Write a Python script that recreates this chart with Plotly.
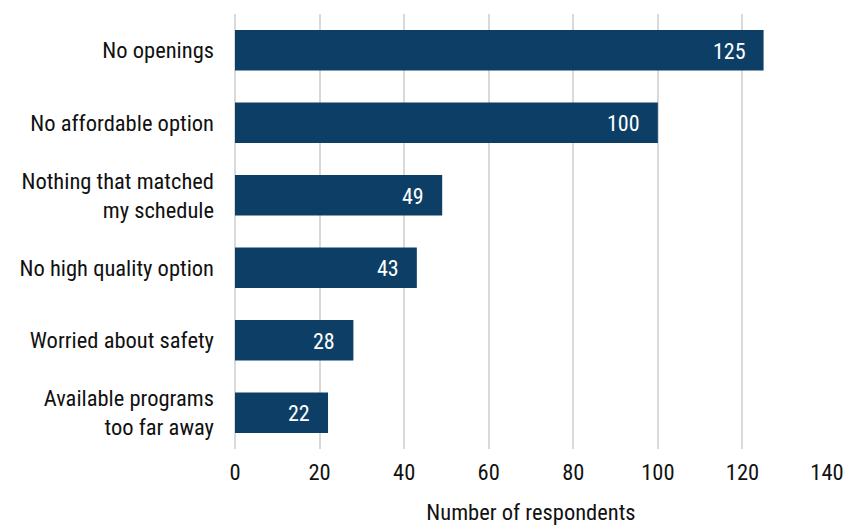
import plotly.graph_objects as go

categories = ["No openings", "No affordable option", "Nothing that matched<br>my schedule",
              "No high quality option", "Worried about safety", "Available programs<br>too far away"]
counts = [125, 100, 49, 43, 28, 22]

FONT = "Roboto Condensed, Liberation Sans Narrow, Arial Narrow, sans-serif"

fig = go.Figure(go.Bar(
    x=counts, y=categories, orientation="h",
    marker=dict(color="#0d3f66", line=dict(width=0)),
    width=0.56, hoverinfo="skip",
))

# value labels inside the bar ends
for cat, v in zip(categories, counts):
    fig.add_annotation(x=v, y=cat, text=str(v), showarrow=False, xanchor="right",
                       xshift=-16, yshift=-1,
                       font=dict(color="white", size=22, family=FONT))

# page body has an 8px margin, so the figure is a bit smaller than the window
fig.update_layout(
    width=838, height=517,
    margin=dict(l=227, r=19, t=6, b=76),
    plot_bgcolor="white", paper_bgcolor="white",
    font=dict(family=FONT, size=22.5, color="#111111"),
    showlegend=False,
)
fig.update_xaxes(range=[0, 140], dtick=20, showgrid=True, gridcolor="#d9d9d9", gridwidth=2,
                 zeroline=True, zerolinecolor="#d9d9d9", zerolinewidth=2,
                 title=dict(text="Number of respondents", standoff=40,
                            font=dict(size=22.5, family=FONT)),
                 ticks="", ticklabelstandoff=7, showline=False, automargin=False)
fig.update_yaxes(autorange="reversed", ticks="", ticklabelstandoff=20,
                 showline=False, automargin=False)

fig.write_html("out.html")
